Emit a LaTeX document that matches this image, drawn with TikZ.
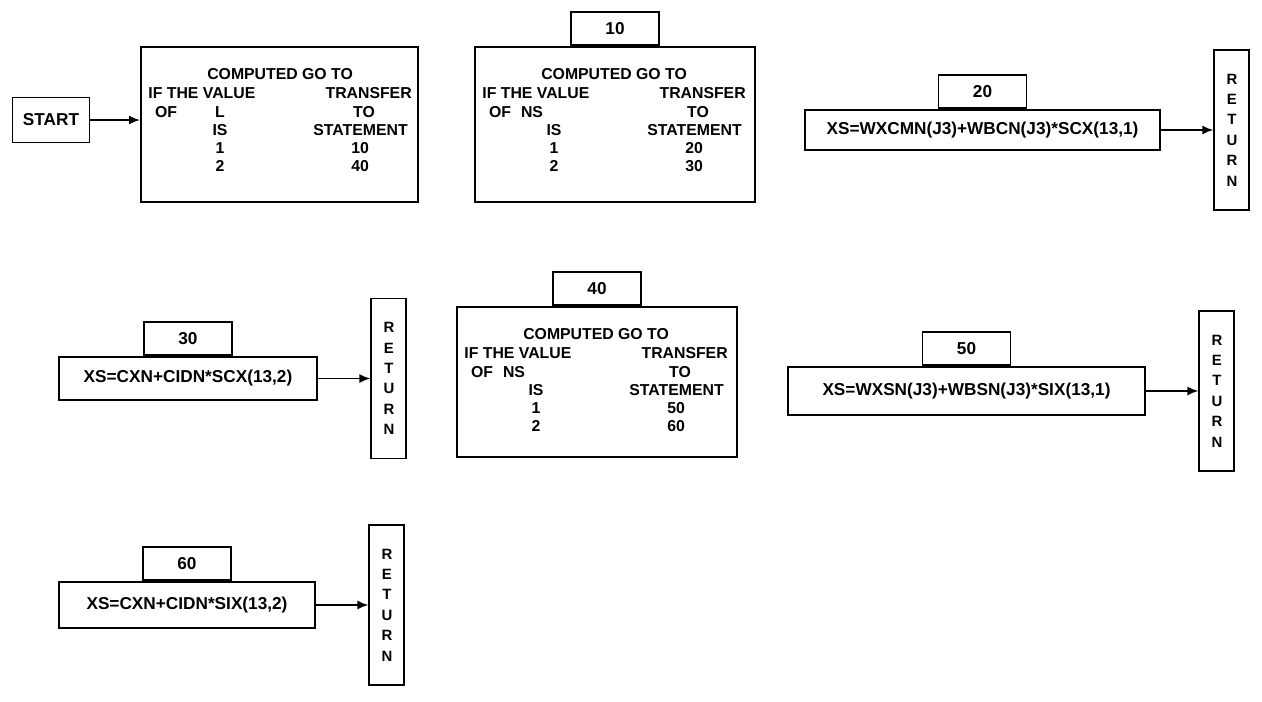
\documentclass[tikz,border=0pt]{standalone}
\usepackage{fontspec}
\setmainfont{Liberation Sans}
\usetikzlibrary{arrows.meta,positioning}

\begin{document}
\begin{tikzpicture}[x=0.02cm, y=-0.02cm, node distance=1.05cm,
    box/.style = {draw, line width=1.1pt, inner sep=1pt, font=\bfseries\fontsize{9.8}{11}\selectfont},
    lbl/.style = {box, minimum width=1.76cm, minimum height=0.67cm},
    ret/.style = {box, minimum width=0.7cm, minimum height=3.2cm, align=center, font=\bfseries\fontsize{8.5}{11.6}\selectfont},
    txt/.style = {inner sep=0pt, font=\bfseries\fontsize{9}{11}\selectfont},
    flow/.style = {-{Latex[length=2.2mm,width=1.8mm]}, line width=1.1pt}]
  \useasboundingbox (0,0) rectangle (1262,701);

  \node[box, minimum width=1.54cm, minimum height=0.9cm] (start) at (51,120) {START};

  % computed go to boxes
  \node[box, minimum width=5.54cm, minimum height=3.1cm] (cgo1) at (279.5,124.5) {};
  \node[box, minimum width=5.6cm, minimum height=3.1cm] (cgo2) at (615,124.5) {};
  \node[lbl, above=0pt of cgo2] (lab10) {10};
  \node[box, minimum width=5.6cm, minimum height=3.0cm] (cgo3) at (597,382) {};
  \node[lbl, above=0pt of cgo3] (lab40) {40};

  \foreach \bx/\var/\vx/\ta/\tb in {cgo1/L/80/10/40, cgo2/NS/58/20/30, cgo3/NS/58/50/60} {
    \node[txt] (\bx-head) at ([shift={(140,28)}]\bx.north west) {COMPUTED GO TO};
    \node[txt, anchor=west] (\bx-if) at ([shift={(8,47)}]\bx.north west) {IF THE VALUE};
    \node[txt, anchor=east] (\bx-tr) at ([shift={(272,47)}]\bx.north west) {TRANSFER};
    \node[txt] (\bx-of) at ([shift={(26,66)}]\bx.north west) {OF};
    \node[txt] (\bx-var) at ([shift={(\vx,66)}]\bx.north west) {\var};
    \node[txt] (\bx-to) at ([shift={(224,66)}]\bx.north west) {TO};
    \node[txt] (\bx-is) at ([shift={(80,84)}]\bx.north west) {IS};
    \node[txt, anchor=east] (\bx-st) at ([shift={(268,84)}]\bx.north west) {STATEMENT};
    \node[txt] (\bx-one) at ([shift={(80,102)}]\bx.north west) {1};
    \node[txt] (\bx-a) at ([shift={(220,102)}]\bx.north west) {\ta};
    \node[txt] (\bx-two) at ([shift={(80,120)}]\bx.north west) {2};
    \node[txt] (\bx-b) at ([shift={(220,120)}]\bx.north west) {\tb};
  }

  % assignment boxes
  \node[box, minimum width=7.1cm, minimum height=0.8cm] (asg20) at (982.5,130) {XS=WXCMN(J3)+WBCN(J3)*SCX(13,1)};
  \node[lbl, above=0pt of asg20] (lab20) {20};
  \node[ret, right=of asg20] (ret1) {R\\E\\T\\U\\R\\N};

  \node[box, minimum width=5.16cm, minimum height=0.86cm] (asg30) at (188,378.5) {XS=CXN+CIDN*SCX(13,2)};
  \node[lbl, above=0pt of asg30] (lab30) {30};
  \node[ret, right=of asg30] (ret2) {R\\E\\T\\U\\R\\N};

  \node[box, minimum width=7.14cm, minimum height=0.96cm] (asg50) at (966.5,391) {XS=WXSN(J3)+WBSN(J3)*SIX(13,1)};
  \node[lbl, above=0pt of asg50] (lab50) {50};
  \node[ret, right=of asg50] (ret3) {R\\E\\T\\U\\R\\N};

  \node[box, minimum width=5.12cm, minimum height=0.92cm] (asg60) at (187,605) {XS=CXN+CIDN*SIX(13,2)};
  \node[lbl, above=0pt of asg60] (lab60) {60};
  \node[ret, right=of asg60] (ret4) {R\\E\\T\\U\\R\\N};

  \draw[flow] (start.east) -- (start.east -| cgo1.west);
  \draw[flow] (asg20.east) -- (asg20.east -| ret1.west);
  \draw[flow] (asg30.east) -- (asg30.east -| ret2.west);
  \draw[flow] (asg50.east) -- (asg50.east -| ret3.west);
  \draw[flow] (asg60.east) -- (asg60.east -| ret4.west);
\end{tikzpicture}
\end{document}
